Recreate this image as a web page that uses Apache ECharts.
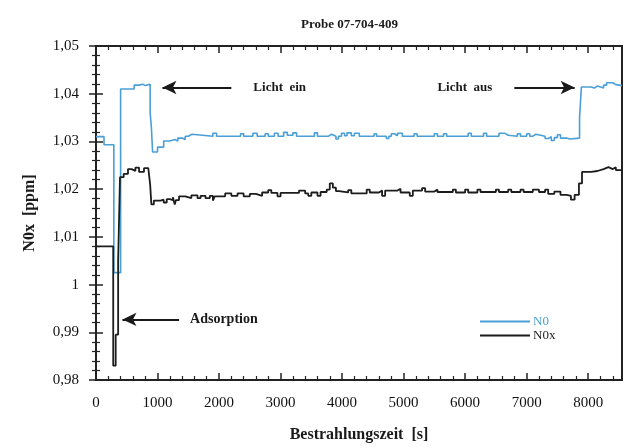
<!DOCTYPE html>
<html><head><meta charset="utf-8">
<script src="https://cdn.jsdelivr.net/npm/echarts@6/dist/echarts.min.js"></script>
<style>html,body{margin:0;padding:0;background:#fff}#c{width:630px;height:448px}</style>
</head><body><div id="c"></div>
<script>
var titleText = 'Probe 07-704-409';
var xName = 'Bestrahlungszeit  [s]';
var yName = 'N0x  [ppm]';
var xTicks = [0,1000,2000,3000,4000,5000,6000,7000,8000];
var yTicks = [0.98,0.99,1,1.01,1.02,1.03,1.04,1.05];

var n0Time = [0,130,290,400,620,700,760,800,880,900,920,1000,1100,1200,1280,1330,1400,1450,1500,1560,1900,1960,2350,2400,2550,2620,2750,2800,2900,2960,3050,3110,3200,3260,3550,3600,3780,3830,3900,3940,3990,4040,4080,4150,4200,4280,4520,4560,4720,4760,4800,4850,4900,4980,5170,5220,5500,5550,5650,5700,6050,6100,6300,6350,6550,6650,6700,6850,6900,7000,7050,7100,7150,7300,7350,7400,7450,7500,7550,7650,7700,7860,7890,8050,8100,8150,8250,8300,8400,8450,8550];
var n0Values = [1.031,1.0293,1.0025,1.041,1.0418,1.042,1.0417,1.042,1.036,1.033,1.0278,1.0288,1.0301,1.0304,1.0301,1.0307,1.0304,1.0311,1.0315,1.0311,1.0317,1.0311,1.0316,1.0311,1.0317,1.0311,1.0316,1.0311,1.0317,1.0311,1.0319,1.0313,1.0318,1.0311,1.0318,1.0311,1.0315,1.0311,1.0305,1.0311,1.0317,1.0312,1.0318,1.0312,1.0317,1.0311,1.0316,1.0311,1.0306,1.0311,1.0316,1.0312,1.0317,1.0311,1.0316,1.0311,1.0316,1.0311,1.0316,1.0311,1.0317,1.0311,1.0317,1.0311,1.0317,1.0313,1.0311,1.0316,1.0311,1.0316,1.0311,1.0315,1.0311,1.0306,1.031,1.0302,1.0308,1.0314,1.0307,1.0305,1.0307,1.035,1.0414,1.0412,1.0416,1.0412,1.0418,1.0423,1.0419,1.0417,1.0417];

var n0xTime = [0,280,320,360,390,450,520,580,640,700,780,850,880,900,940,1050,1100,1150,1200,1250,1280,1300,1350,1450,1550,1650,1700,1780,1850,1900,1930,2100,2200,2300,2400,2500,2600,2700,2800,2850,2950,3000,3300,3400,3450,3500,3600,3650,3750,3800,3850,3900,3950,4100,4150,4400,4450,4600,4650,4700,4900,4950,5100,5150,5300,5350,5500,5550,5800,5850,6000,6050,6200,6250,6500,6550,6700,6750,6900,6950,7100,7200,7300,7350,7450,7550,7650,7720,7780,7850,7900,8050,8150,8250,8330,8400,8450,8550];
var n0xValues = [1.008,0.983,0.9895,1.005,1.0225,1.0232,1.0242,1.0238,1.0245,1.0236,1.0244,1.0246,1.021,1.0168,1.0176,1.0178,1.0172,1.0179,1.0177,1.0183,1.0168,1.0177,1.0185,1.0181,1.0187,1.0181,1.0186,1.0181,1.0186,1.0176,1.0185,1.0191,1.0186,1.0191,1.0185,1.019,1.0186,1.0193,1.0198,1.0192,1.0185,1.0192,1.0197,1.0191,1.0186,1.0193,1.0186,1.0194,1.0199,1.0212,1.0203,1.0196,1.0193,1.0198,1.0191,1.0199,1.0193,1.0197,1.0186,1.0197,1.0201,1.0193,1.0186,1.0197,1.0202,1.0195,1.0199,1.0194,1.0199,1.0193,1.0199,1.0193,1.0199,1.0194,1.0199,1.0194,1.0199,1.0194,1.0199,1.0194,1.0199,1.0194,1.0199,1.019,1.0195,1.0188,1.0186,1.0178,1.0188,1.0212,1.0236,1.0238,1.0242,1.0246,1.0242,1.0246,1.024,1.024];

var annLichtEin = {from:[2200,1.0413], to:[1080,1.0413], text:'Licht  ein', size:13, dist:22};
var annLichtAus = {from:[6800,1.0413], to:[7780,1.0413], text:'Licht  aus', size:13, dist:22};
var annAdsorption = {from:[1350,0.9927], to:[430,0.9927], text:'Adsorption', size:14, dist:11};

function pairs(xs, ys){ return xs.map(function(x,i){return [x, ys[i]];}); }
var BLUE = '#4a9fd8', BLACK = '#1c1c1c';
var serif = '"Liberation Serif", "DejaVu Serif", serif';
function fmtY(v){ return String(Math.round(v*1000)/1000).replace('.', ','); }
function fmtX(v){ return String(Math.round(v)); }

function ann(a){
  return [{coord:a.from, label:{show:true, position:'start', formatter:a.text, fontSize:a.size, distance:a.dist}}, {coord:a.to}];
}

var chart = echarts.init(document.getElementById('c'), null, {renderer:'canvas'});
chart.setOption({
  animation:false,
  backgroundColor:'#fff',
  title:{text:titleText, left:296, top:13, textStyle:{fontFamily:serif, fontWeight:'bold', fontSize:13, color:'#1a1a1a'}},
  grid:{left:96, right:8, top:46, bottom:67, show:true, borderColor:'#222', borderWidth:2, backgroundColor:'transparent'},
  legend:{
    orient:'vertical', left:480, top:313, itemWidth:50, itemHeight:2, itemGap:1, icon:'rect',
    backgroundColor:'#fff', padding:[2,4,2,0],
    data:[{name:'N0', textStyle:{color:BLUE}},{name:'N0x', textStyle:{color:BLACK}}],
    textStyle:{fontFamily:serif, fontSize:13, padding:[0,0,0,-2]}
  },
  xAxis:[{
    type:'value', min:0, max:8550, interval:1000,
    name:xName, nameLocation:'middle', nameGap:47,
    nameTextStyle:{fontFamily:serif, fontWeight:'bold', fontSize:16, color:'#1a1a1a'},
    axisLine:{show:true, lineStyle:{color:'#222', width:2}},
    axisTick:{inside:true, length:7, lineStyle:{color:'#222', width:1.5}},
    minorTick:{show:true, splitNumber:5, length:4, lineStyle:{color:'#222', width:1.2}},
    axisLabel:{margin:16, fontFamily:serif, fontSize:15, color:'#111', showMaxLabel:false, formatter:fmtX},
    splitLine:{show:false}
  },{
    type:'value', position:'top', min:0, max:8550, interval:1000,
    axisLine:{show:true, lineStyle:{color:'#222', width:2}},
    axisTick:{inside:true, length:7, lineStyle:{color:'#222', width:1.5}},
    minorTick:{show:true, splitNumber:5, length:4, lineStyle:{color:'#222', width:1.2}},
    axisLabel:{show:false}, splitLine:{show:false}
  }],
  yAxis:[{
    type:'value', min:0.98, max:1.05, interval:0.01,
    name:yName, nameLocation:'middle', nameGap:58,
    nameTextStyle:{fontFamily:serif, fontWeight:'bold', fontSize:16, color:'#1a1a1a'},
    axisLine:{show:true, lineStyle:{color:'#222', width:2}},
    axisTick:{inside:true, length:7, lineStyle:{color:'#222', width:1.5}},
    minorTick:{show:true, splitNumber:5, length:4, lineStyle:{color:'#222', width:1.2}},
    axisLabel:{margin:17, fontFamily:serif, fontSize:15, color:'#111', formatter:fmtY},
    splitLine:{show:false}
  },{
    type:'value', position:'right', min:0.98, max:1.05, interval:0.01,
    axisLine:{show:true, lineStyle:{color:'#222', width:2}},
    axisTick:{inside:true, length:7, lineStyle:{color:'#222', width:1.5}},
    minorTick:{show:true, splitNumber:5, length:4, lineStyle:{color:'#222', width:1.2}},
    axisLabel:{show:false}, splitLine:{show:false}
  }],
  series:[{
    name:'N0', type:'line', step:'end', symbol:'none',
    data:pairs(n0Time, n0Values),
    lineStyle:{color:BLUE, width:1.6}, itemStyle:{color:BLUE}
  },{
    name:'N0x', type:'line', step:'end', symbol:'none',
    data:pairs(n0xTime, n0xValues),
    lineStyle:{color:BLACK, width:1.8}, itemStyle:{color:BLACK},
    markLine:{
      silent:true, symbol:['none','arrow'], symbolSize:[10,14],
      lineStyle:{color:'#1a1a1a', width:2, type:'solid'},
      label:{fontFamily:serif, fontWeight:'bold', fontSize:13, color:'#1a1a1a', distance:22},
      data:[ann(annLichtEin), ann(annAdsorption), ann(annLichtAus)]
    }
  }]
});
</script></body></html>
